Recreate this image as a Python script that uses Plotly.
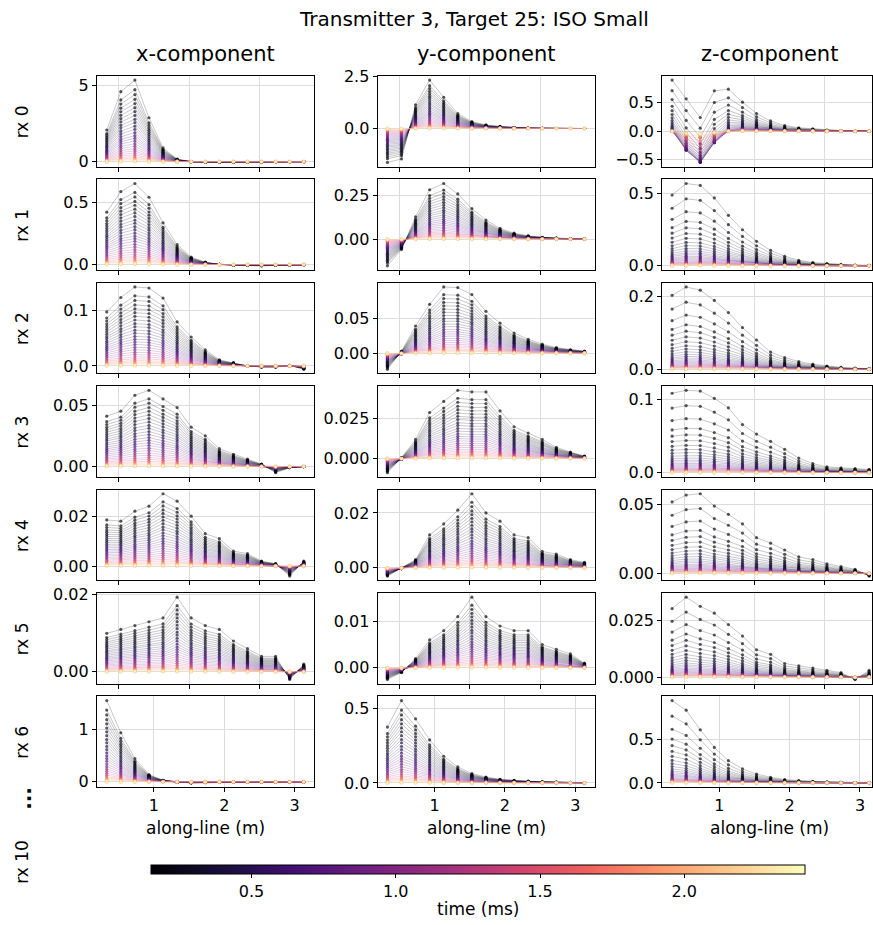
import re
import plotly.graph_objects as go
from plotly.subplots import make_subplots
from plotly.colors import sample_colorscale

# ---------------- data ----------------
# along-line station positions (m): receivers rx 0-5 and rx 6 are plotted on different stations
along_line_rx0_5 = [0.83, 1.03, 1.23, 1.43, 1.63, 1.83, 2.03, 2.23, 2.43, 2.63, 2.83, 3.03, 3.23, 3.43, 3.63]
along_line_rx6 = [0.33, 0.53, 0.73, 0.93, 1.13, 1.33, 1.53, 1.73, 1.93, 2.13, 2.33, 2.53, 2.73, 2.93, 3.13]

times_ms = [0.150, 0.167, 0.186, 0.207, 0.230, 0.256, 0.285, 0.317, 0.352, 0.392, 0.436, 0.485, 0.540,
            0.600, 0.668, 0.743, 0.827, 0.920, 1.023, 1.138, 1.266, 1.409, 1.567, 1.744, 1.940, 2.158, 2.400]

# relative weight of the early-time response per time channel (x / y and z components)
decay_xy = [1.0, 0.878, 0.816, 0.755, 0.702, 0.649, 0.6, 0.551, 0.502, 0.461, 0.416, 0.376, 0.335, 0.298,
            0.265, 0.233, 0.2, 0.171, 0.143, 0.118, 0.094, 0.073, 0.053, 0.037, 0.024, 0.012, 0.004]
decay_z = [1.0, 0.81, 0.65, 0.53, 0.45, 0.38, 0.32, 0.27, 0.23, 0.195, 0.165, 0.14, 0.12, 0.1, 0.085,
           0.072, 0.06, 0.05, 0.042, 0.035, 0.029, 0.023, 0.018, 0.014, 0.01, 0.007, 0.004]
# relative weight of the late-time (persistent) response per time channel
persist = [1.0, 1.0, 1.0, 1.0, 1.0, 1.0, 0.99, 0.98, 0.97, 0.96, 0.94, 0.92, 0.89, 0.86, 0.82, 0.77,
           0.71, 0.64, 0.56, 0.48, 0.40, 0.32, 0.25, 0.19, 0.14, 0.10, 0.07]

# earliest-channel profile (early) and late-time profile (late) for each receiver / component
rx0_x_early = [2.07, 4.57, 5.33, 2.87, 0.90, 0.17, 0.00, -0.04, -0.05, -0.03, -0.02, -0.01, 0.0, 0.0, 0.0]
rx0_x_late = [0.10, 0.18, 0.20, 0.12, 0.05, 0.015, 0.0, -0.005, -0.005, 0.0, 0.0, 0.0, 0.0, 0.0, 0.0]
rx0_y_early = [-1.62, -1.45, 1.13, 2.31, 1.49, 0.71, 0.33, 0.17, 0.10, 0.05, 0.02, 0.01, 0.0, 0.0, 0.0]
rx0_y_late = [-0.15, -0.18, 0.04, 0.12, 0.10, 0.06, 0.04, 0.02, 0.01, 0.005, 0.0, 0.0, 0.0, 0.0, 0.0]
rx0_z_early = [0.90, 0.57, 0.24, 0.71, 0.74, 0.51, 0.31, 0.18, 0.10, 0.06, 0.04, 0.02, 0.01, 0.005, 0.0]
rx0_z_late = [-0.08, -0.52, -0.75, -0.36, -0.06, 0.01, 0.01, 0.005, 0.0, 0.0, 0.0, 0.0, 0.0, 0.0, 0.0]

rx1_x_early = [0.42, 0.585, 0.65, 0.54, 0.335, 0.16, 0.06, 0.02, 0.003, -0.005, -0.008, -0.01, -0.005, -0.003, -0.002]
rx1_x_late = [0.05, 0.06, 0.065, 0.055, 0.035, 0.018, 0.006, 0.002, 0.0, 0.0, 0.0, 0.0, 0.0, 0.0, 0.0]
rx1_y_early = [-0.154, -0.06, 0.128, 0.284, 0.32, 0.26, 0.175, 0.11, 0.062, 0.034, 0.019, 0.01, 0.006, 0.002, 0.0]
rx1_y_late = [-0.02, -0.015, 0.005, 0.01, 0.012, 0.012, 0.01, 0.008, 0.005, 0.003, 0.001, 0.001, 0.001, 0.0, 0.0]
rx1_z_early = [0.49, 0.57, 0.557, 0.47, 0.35, 0.25, 0.17, 0.107, 0.066, 0.039, 0.023, 0.016, 0.009, 0.005, 0.004]
rx1_z_late = [0.01, 0.012, 0.012, 0.011, 0.01, 0.008, 0.006, 0.004, 0.003, 0.002, 0.001, 0.0, 0.0, 0.0, 0.0]

rx2_x_early = [0.097, 0.123, 0.142, 0.14, 0.122, 0.079, 0.052, 0.029, 0.011, 0.006, 0.0, -0.002, -0.002, 0.001, -0.006]
rx2_x_late = [0.008, 0.01, 0.01, 0.009, 0.008, 0.006, 0.004, 0.002, 0.001, 0.0, 0.0, 0.0, 0.0, 0.0, 0.0]
rx2_y_early = [-0.023, 0.003, 0.039, 0.07, 0.095, 0.094, 0.084, 0.06, 0.043, 0.029, 0.02, 0.013, 0.008, 0.005, 0.003]
rx2_y_late = [-0.005, -0.003, 0.001, 0.003, 0.004, 0.005, 0.005, 0.004, 0.003, 0.002, 0.002, 0.001, 0.001, 0.0, 0.0]
rx2_z_early = [0.202, 0.225, 0.216, 0.188, 0.155, 0.114, 0.08, 0.047, 0.032, 0.021, 0.014, 0.009, 0.005, 0.003, 0.002]
rx2_z_late = [0.004, 0.005, 0.005, 0.005, 0.004, 0.004, 0.003, 0.002, 0.002, 0.001, 0.001, 0.0, 0.0, 0.0, 0.0]

rx3_x_early = [0.041, 0.045, 0.058, 0.062, 0.055, 0.048, 0.032, 0.025, 0.0145, 0.01, 0.006, 0.002, -0.005, -0.001, 0.0]
rx3_x_late = [0.004, 0.005, 0.005, 0.005, 0.0045, 0.004, 0.003, 0.002, 0.001, 0.0005, 0.0, 0.0, 0.0, 0.0, 0.0]
rx3_y_early = [-0.009, 0.0005, 0.012, 0.029, 0.036, 0.043, 0.042, 0.042, 0.03, 0.02, 0.016, 0.012, 0.007, 0.004, 0.0015]
rx3_y_late = [-0.002, -0.001, 0.0005, 0.001, 0.0015, 0.002, 0.002, 0.002, 0.0015, 0.001, 0.001, 0.0005, 0.0003, 0.0002, 0.0]
rx3_z_early = [0.109, 0.113, 0.112, 0.102, 0.089, 0.066, 0.053, 0.043, 0.032, 0.02, 0.0125, 0.008, 0.0065, 0.0056, 0.0046]
rx3_z_late = [0.002, 0.002, 0.002, 0.002, 0.002, 0.0015, 0.0012, 0.001, 0.0008, 0.0005, 0.0003, 0.0002, 0.0001, 0.0, 0.0]

rx4_x_early = [0.0185, 0.018, 0.022, 0.024, 0.029, 0.026, 0.02, 0.013, 0.011, 0.006, 0.005, 0.002, 0.001, -0.004, 0.002]
rx4_x_late = [0.002, 0.0025, 0.0025, 0.0025, 0.0025, 0.002, 0.0015, 0.001, 0.0008, 0.0005, 0.0003, 0.0002, 0.0, 0.0, 0.0]
rx4_y_early = [-0.003, 0.0, 0.003, 0.012, 0.016, 0.021, 0.027, 0.02, 0.017, 0.012, 0.011, 0.006, 0.005, 0.003, 0.002]
rx4_y_late = [-0.001, -0.0005, 0.0005, 0.001, 0.0012, 0.0015, 0.0015, 0.0014, 0.0012, 0.001, 0.0008, 0.0005, 0.0003, 0.0002, 0.0001]
rx4_z_early = [0.052, 0.057, 0.058, 0.049, 0.043, 0.036, 0.026, 0.022, 0.017, 0.012, 0.01, 0.007, 0.005, 0.003, -0.002]
rx4_z_late = [0.001, 0.0012, 0.0012, 0.0012, 0.0011, 0.001, 0.0009, 0.0008, 0.0006, 0.0005, 0.0003, 0.0002, 0.0001, 0.0, 0.0]

rx5_x_early = [0.010, 0.011, 0.012, 0.013, 0.014, 0.0194, 0.014, 0.012, 0.011, 0.008, 0.006, 0.004, 0.004, -0.002, 0.002]
rx5_x_late = [0.001, 0.0012, 0.0013, 0.0014, 0.0014, 0.0013, 0.0011, 0.0009, 0.0007, 0.0005, 0.0004, 0.0003, 0.0002, 0.0001, 0.0]
rx5_y_early = [-0.0025, -0.001, 0.002, 0.006, 0.008, 0.011, 0.0152, 0.011, 0.009, 0.008, 0.008, 0.005, 0.004, 0.003, 0.001]
rx5_y_late = [-0.0005, -0.0003, 0.0002, 0.0006, 0.0008, 0.001, 0.001, 0.001, 0.0009, 0.0008, 0.0007, 0.0005, 0.0003, 0.0002, 0.0001]
rx5_z_early = [0.030, 0.035, 0.031, 0.028, 0.023, 0.018, 0.012, 0.010, 0.006, 0.005, 0.004, 0.003, 0.002, -0.001, 0.003]
rx5_z_late = [0.0006, 0.0007, 0.0007, 0.0007, 0.0006, 0.0005, 0.0004, 0.0003, 0.0002, 0.0002, 0.0001, 0.0001, 0.0, 0.0, 0.0]

rx6_x_early = [1.54, 0.93, 0.44, 0.14, 0.03, -0.005, -0.02, -0.015, -0.01, -0.005, 0.0, 0.0, 0.0, 0.0, 0.0]
rx6_x_late = [0.06, 0.05, 0.035, 0.02, 0.008, 0.003, 0.0, 0.0, 0.0, 0.0, 0.0, 0.0, 0.0, 0.0, 0.0]
rx6_y_early = [0.377, 0.556, 0.433, 0.29, 0.18, 0.108, 0.063, 0.04, 0.025, 0.017, 0.012, 0.008, 0.006, 0.004, 0.002]
rx6_y_late = [0.02, 0.03, 0.025, 0.018, 0.012, 0.008, 0.005, 0.003, 0.002, 0.001, 0.001, 0.0, 0.0, 0.0, 0.0]
rx6_z_early = [0.94, 0.83, 0.606, 0.405, 0.254, 0.16, 0.102, 0.064, 0.038, 0.026, 0.019, 0.012, 0.008, 0.005, 0.003]
rx6_z_late = [0.005, 0.006, 0.006, 0.005, 0.004, 0.003, 0.002, 0.0015, 0.001, 0.0005, 0.0, 0.0, 0.0, 0.0, 0.0]

# y tick values and labels per panel (row-major: x, y, z)
ytick_vals = [
    [[0, 5], [0.0, 2.5], [-0.5, 0.0, 0.5]],
    [[0.0, 0.5], [0.0, 0.25], [0.0, 0.5]],
    [[0.0, 0.1], [0.0, 0.05], [0.0, 0.2]],
    [[0.0, 0.05], [0.0, 0.025], [0.0, 0.1]],
    [[0.0, 0.02], [0.0, 0.02], [0.0, 0.05]],
    [[0.0, 0.02], [0.0, 0.01], [0.0, 0.025]],
    [[0, 1], [0.0, 0.5], [0.0, 0.5]],
]
ytick_text = [
    [["0", "5"], ["0.0", "2.5"], ["\u22120.5", "0.0", "0.5"]],
    [["0.0", "0.5"], ["0.00", "0.25"], ["0.0", "0.5"]],
    [["0.0", "0.1"], ["0.00", "0.05"], ["0.0", "0.2"]],
    [["0.00", "0.05"], ["0.000", "0.025"], ["0.0", "0.1"]],
    [["0.00", "0.02"], ["0.00", "0.02"], ["0.00", "0.05"]],
    [["0.00", "0.02"], ["0.00", "0.01"], ["0.000", "0.025"]],
    [["0", "1"], ["0.0", "0.5"], ["0.0", "0.5"]],
]
xtick_vals = [1, 2, 3]
xtick_text = ["1", "2", "3"]
cbar_ticks = [0.5, 1.0, 1.5, 2.0]
cbar_text = ["0.5", "1.0", "1.5", "2.0"]

row_labels = ["rx 0", "rx 1", "rx 2", "rx 3", "rx 4", "rx 5", "rx 6"]
col_titles = ["x-component", "y-component", "z-component"]

panels = [
    [(rx0_x_early, rx0_x_late), (rx0_y_early, rx0_y_late), (rx0_z_early, rx0_z_late)],
    [(rx1_x_early, rx1_x_late), (rx1_y_early, rx1_y_late), (rx1_z_early, rx1_z_late)],
    [(rx2_x_early, rx2_x_late), (rx2_y_early, rx2_y_late), (rx2_z_early, rx2_z_late)],
    [(rx3_x_early, rx3_x_late), (rx3_y_early, rx3_y_late), (rx3_z_early, rx3_z_late)],
    [(rx4_x_early, rx4_x_late), (rx4_y_early, rx4_y_late), (rx4_z_early, rx4_z_late)],
    [(rx5_x_early, rx5_x_late), (rx5_y_early, rx5_y_late), (rx5_z_early, rx5_z_late)],
    [(rx6_x_early, rx6_x_late), (rx6_y_early, rx6_y_late), (rx6_z_early, rx6_z_late)],
]
row_stations = [along_line_rx0_5] * 6 + [along_line_rx6]

# ---------------- figure ----------------
W, H = 873, 925
FONT = "DejaVu Sans"
TMIN, TMAX = 0.153, 2.42

col_px = [(97, 314), (378, 596), (663, 873)]
row_top, row_step, row_h = 68, 105, 92

norm = [(t - TMIN) / (TMAX - TMIN) for t in times_ms]
rgb_list = sample_colorscale("Magma", norm)
NCH = len(times_ms)


def rgba(c, a):
    r, g, b = [float(v) for v in re.findall(r"[\d.]+", c)[:3]]
    return f"rgba({int(round(r))},{int(round(g))},{int(round(b))},{a})"


fig = make_subplots(rows=7, cols=3)

for r in range(7):
    xs = row_stations[r]
    span = max(xs) - min(xs)
    xlo = min(xs) - 0.05 * span
    xhi = max(xs) + 0.05 * span
    ppu = (col_px[0][1] - col_px[0][0]) / (xhi - xlo)
    for c in range(3):
        early, late = panels[r][c]
        dec = decay_z if c == 2 else decay_xy
        allv = []
        for k in range(NCH):
            yv = [dec[k] * (e - l) + persist[k] * l for e, l in zip(early, late)]
            allv += yv
            last = (k == NCH - 1)
            mk = dict(color=rgba(rgb_list[k], 0.65), size=3.2)
            if last:
                mk = dict(color=rgba(rgb_list[k], 0.8), size=3.8,
                          line=dict(color="rgba(245,160,110,0.6)", width=0.7))
            fig.add_trace(go.Scatter(
                x=xs, y=yv, mode="lines+markers",
                line=dict(color=rgba(rgb_list[k], 0.32), width=0.7),
                marker=mk, showlegend=False, hoverinfo="skip"), row=r + 1, col=c + 1)
        n = r * 3 + c + 1
        sfx = "" if n == 1 else str(n)
        x0, x1 = col_px[c]
        top = row_top + r * row_step
        lo, hi = min(allv), max(allv)
        pad = 0.05 * (hi - lo)
        xr_hi = xlo + (x1 - x0) / ppu
        fig.layout["xaxis" + sfx].update(
            domain=[x0 / W, x1 / W], range=[xlo, xr_hi],
            tickvals=xtick_vals, ticktext=xtick_text if r == 6 else ["", "", ""],
            showline=True, mirror=True, linecolor="black", linewidth=1,
            ticks="outside", ticklen=4, tickcolor="black",
            showgrid=True, gridcolor="#dcdcdc", gridwidth=1, zeroline=False,
            tickfont=dict(family=FONT, size=16, color="black"))
        fig.layout["yaxis" + sfx].update(
            domain=[1 - (top + row_h) / H, 1 - top / H], range=[lo - pad, hi + pad],
            tickvals=ytick_vals[r][c], ticktext=ytick_text[r][c],
            showline=True, mirror=True, linecolor="black", linewidth=1,
            ticks="outside", ticklen=4, tickcolor="black",
            showgrid=True, gridcolor="#dcdcdc", gridwidth=1, zeroline=False,
            tickfont=dict(family=FONT, size=16, color="black"))

# colour bar carrier
fig.add_trace(go.Scatter(
    x=[along_line_rx0_5[0]], y=[0], mode="markers", showlegend=False, hoverinfo="skip",
    marker=dict(size=0.01, color=[times_ms[0]], colorscale="Magma", cmin=TMIN, cmax=TMAX,
                showscale=True,
                colorbar=dict(orientation="h", x=(152 + 806) / 2 / W, xanchor="center",
                              y=1 - 869 / H, yanchor="top", len=654, lenmode="pixels",
                              thickness=9, thicknessmode="pixels", xpad=0, ypad=0,
                              outlinewidth=1, outlinecolor="black",
                              tickvals=cbar_ticks, ticktext=cbar_text, ticks="outside",
                              ticklen=4, tickcolor="black",
                              tickfont=dict(family=FONT, size=16, color="black")))),
    row=1, col=1)

ann = []
ann.append(dict(text="Transmitter 3, Target 25: ISO Small", x=475 / W, y=1 - 10 / H,
                xref="paper", yref="paper", showarrow=False, xanchor="center", yanchor="middle",
                font=dict(family=FONT, size=20, color="black")))
col_centers = [205.5, 487, 770]
for c in range(3):
    ann.append(dict(text=col_titles[c], x=col_centers[c] / W, y=1 - 46 / H, xref="paper", yref="paper",
                    showarrow=False, xanchor="center", yanchor="middle",
                    font=dict(family=FONT, size=21, color="black")))
    ann.append(dict(text="along-line (m)", x=col_centers[c] / W, y=1 - 832 / H, xref="paper", yref="paper",
                    showarrow=False, xanchor="center", yanchor="middle",
                    font=dict(family=FONT, size=17, color="black")))
for r in range(7):
    cy = row_top + r * row_step + row_h / 2
    ann.append(dict(text=row_labels[r], x=22 / W, y=1 - cy / H, xref="paper", yref="paper",
                    showarrow=False, xanchor="center", yanchor="middle", textangle=-90,
                    font=dict(family=FONT, size=17, color="black")))
ann.append(dict(text="<b>...</b>", x=24 / W, y=1 - 801 / H, xref="paper", yref="paper",
                showarrow=False, xanchor="center", yanchor="middle", textangle=-90,
                font=dict(family=FONT, size=20, color="black")))
ann.append(dict(text="rx 10", x=22 / W, y=1 - 866 / H, xref="paper", yref="paper",
                showarrow=False, xanchor="center", yanchor="middle", textangle=-90,
                font=dict(family=FONT, size=17, color="black")))
ann.append(dict(text="time (ms)", x=(152 + 806) / 2 / W, y=1 - 914 / H, xref="paper", yref="paper",
                showarrow=False, xanchor="center", yanchor="middle",
                font=dict(family=FONT, size=17, color="black")))

fig.update_layout(width=W, height=H, margin=dict(l=0, r=0, t=0, b=0),
                  paper_bgcolor="white", plot_bgcolor="white", annotations=ann,
                  font=dict(family=FONT, color="black"))

fig.write_html("out.html")
